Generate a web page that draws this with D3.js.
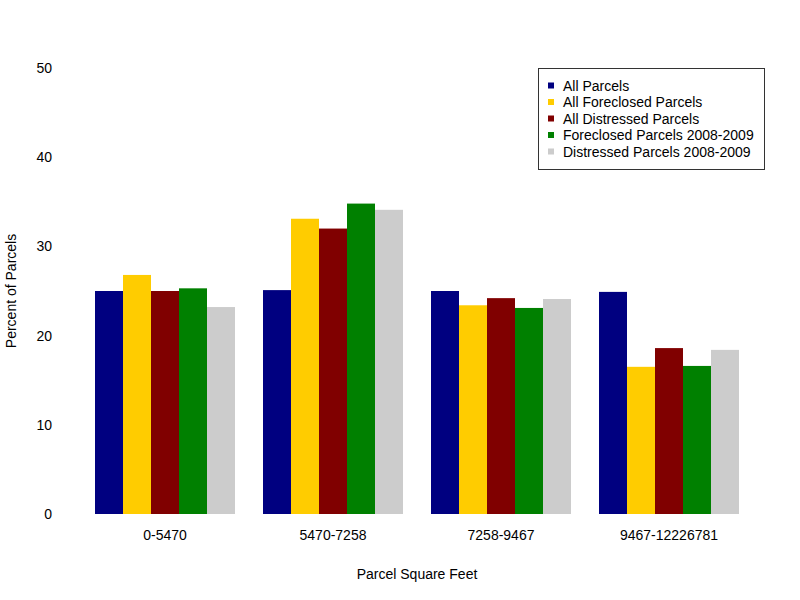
<!DOCTYPE html>
<html>
<head>
<meta charset="utf-8">
<script src="https://cdn.jsdelivr.net/npm/d3@7"></script>
<style>
  body { margin: 0; background: #fff; }
  text { font-family: "Liberation Sans", Arial, sans-serif; fill: #000; }
</style>
</head>
<body>
<div id="chart"></div>
<script>
// Datos del gráfico
const categories = ['0-5470', '5470-7258', '7258-9467', '9467-12226781'];
const seriesNames = ['All Parcels', 'All Foreclosed Parcels', 'All Distressed Parcels',
                     'Foreclosed Parcels 2008-2009', 'Distressed Parcels 2008-2009'];
const allParcels        = [25.0, 25.1, 25.0, 24.9];
const allForeclosed     = [26.8, 33.1, 23.4, 16.5];
const allDistressed     = [25.0, 32.0, 24.2, 18.6];
const foreclosed0809    = [25.3, 34.8, 23.1, 16.6];
const distressed0809    = [23.2, 34.1, 24.1, 18.4];
const yTicks = [0, 10, 20, 30, 40, 50];

const seriesValues = [allParcels, allForeclosed, allDistressed, foreclosed0809, distressed0809];
const colors = ['#000080', '#ffcc00', '#800000', '#008000', '#cccccc'];
const FONT = '14px';

const W = 800, H = 600;
const margin = {top: 68, right: 33, bottom: 86, left: 67};
const width = W - margin.left - margin.right;
const height = H - margin.top - margin.bottom;

const svg = d3.select('#chart').append('svg')
  .attr('width', W).attr('height', H);

const g = svg.append('g')
  .attr('transform', `translate(${margin.left},${margin.top})`);

const x0 = d3.scaleBand()
  .domain(categories)
  .range([0, width])
  .paddingInner(1 / 6)
  .paddingOuter(1 / 6);

const x1 = d3.scaleBand()
  .domain(d3.range(seriesNames.length))
  .range([0, x0.bandwidth()]);

const y = d3.scaleLinear()
  .domain([0, 50])
  .range([height, 0]);

// Barras
categories.forEach((cat, i) => {
  const grp = g.append('g').attr('transform', `translate(${x0(cat)},0)`);
  seriesValues.forEach((vals, s) => {
    grp.append('rect')
      .attr('x', x1(s))
      .attr('y', y(vals[i]))
      .attr('width', x1.bandwidth())
      .attr('height', height - y(vals[i]))
      .attr('fill', colors[s]);
  });
});

// Eje Y (solo etiquetas)
const yAxis = g.append('g')
  .call(d3.axisLeft(y).tickValues(yTicks).tickSize(0).tickPadding(15));
yAxis.select('.domain').remove();
yAxis.selectAll('text').style('font-size', FONT).attr('fill', '#000');

// Eje X (solo etiquetas)
const xAxis = g.append('g')
  .attr('transform', `translate(0,${height})`)
  .call(d3.axisBottom(x0).tickSize(0).tickPadding(16));
xAxis.select('.domain').remove();
xAxis.selectAll('text').style('font-size', FONT).attr('fill', '#000');

// Títulos de ejes
svg.append('text')
  .attr('x', margin.left + width / 2)
  .attr('y', 579)
  .attr('text-anchor', 'middle')
  .style('font-size', FONT)
  .text('Parcel Square Feet');

svg.append('text')
  .attr('transform', `translate(16,${margin.top + height / 2}) rotate(-90)`)
  .attr('text-anchor', 'middle')
  .style('font-size', FONT)
  .text('Percent of Parcels');

// Leyenda
const legend = svg.append('g').attr('transform', 'translate(538.5,68.5)');
legend.append('rect')
  .attr('width', 226).attr('height', 101)
  .attr('fill', '#fff').attr('stroke', '#333').attr('stroke-width', 1);

seriesNames.forEach((name, s) => {
  const row = legend.append('g').attr('transform', `translate(0,${17.5 + s * 16.5})`);
  row.append('rect')
    .attr('x', 9.5).attr('y', -3.5)
    .attr('width', 6).attr('height', 6)
    .attr('fill', colors[s]);
  row.append('text')
    .attr('x', 24.5).attr('y', 0)
    .attr('dy', '0.35em')
    .style('font-size', FONT)
    .text(name);
});
</script>
</body>
</html>
